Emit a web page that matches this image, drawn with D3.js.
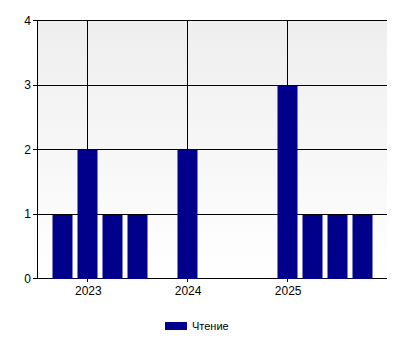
<!DOCTYPE html>
<html><head><meta charset="utf-8">
<script src="https://cdn.jsdelivr.net/npm/d3@7"></script>
<style>body{margin:0;background:#fff;}svg{display:block;font-family:"Liberation Sans",Arial,sans-serif;}</style>
</head><body>
<script>
const periods = ["2022-10-01","2023-01-01","2023-04-01","2023-07-01","2024-01-01","2025-01-01","2025-04-01","2025-07-01","2025-10-01"];
const values = [1,2,1,1,2,3,1,1,1];
const yTicks = [0,1,2,3,4];
const xTickYears = ["2023-01-01","2024-01-01","2025-01-01"];
const seriesName = "Чтение";

const W=400,H=350, L=37, R=387, T=20, B=278;
const parse = d3.utcParse("%Y-%m-%d");
const svg = d3.select("body").append("svg").attr("width",W).attr("height",H);
const x = d3.scaleUtc().domain([parse("2022-07-01"), parse("2026-01-01")]).range([L,R]);
const y = d3.scaleLinear().domain([0,4]).range([B,T]);

const defs = svg.append("defs");
const g = defs.append("linearGradient").attr("id","bg").attr("x1",0).attr("y1",0).attr("x2",0).attr("y2",1);
g.append("stop").attr("offset",0).attr("stop-color","#eeeeee");
g.append("stop").attr("offset",1).attr("stop-color","#ffffff");
svg.append("rect").attr("x",L).attr("y",T).attr("width",R-L).attr("height",B-T).attr("fill","url(#bg)");

// horizontal gridlines
svg.append("g").selectAll("line").data(yTicks).join("line")
  .attr("x1",L-4).attr("x2",R).attr("y1",d=>Math.round(y(d))+0.5).attr("y2",d=>Math.round(y(d))+0.5)
  .attr("stroke","#000").attr("stroke-width",1);
// vertical gridlines
svg.append("g").selectAll("line").data(xTickYears).join("line")
  .attr("x1",d=>Math.round(x(parse(d)))+0.5).attr("x2",d=>Math.round(x(parse(d)))+0.5)
  .attr("y1",T).attr("y2",B+4).attr("stroke","#000");

// bars
svg.append("g").selectAll("rect").data(periods).join("rect")
  .attr("x",d=>Math.round(x(parse(d)))-9.5).attr("width",20)
  .attr("y",(d,i)=>Math.round(y(values[i]))+1).attr("height",(d,i)=>B-Math.round(y(values[i])))
  .attr("fill","#00008b");

// left axis line
svg.append("line").attr("x1",L+0.5).attr("x2",L+0.5).attr("y1",T).attr("y2",B+1).attr("stroke","#000");

// y labels
svg.append("g").selectAll("text").data(yTicks).join("text")
  .attr("x",31).attr("y",d=>y(d)+4.5).attr("text-anchor","end").attr("font-size",12).attr("fill","#000").text(d=>d);
// x labels
svg.append("g").selectAll("text").data(xTickYears).join("text")
  .attr("x",d=>x(parse(d))+1).attr("y",295).attr("text-anchor","middle").attr("font-size",12).attr("fill","#000")
  .text(d=>d3.utcFormat("%Y")(parse(d)));

// legend
svg.append("rect").attr("x",165).attr("y",322).attr("width",22).attr("height",8).attr("fill","#00008b");
svg.append("text").attr("x",192).attr("y",330).attr("font-size",11).attr("fill","#000").text(seriesName);
</script>
</body></html>
